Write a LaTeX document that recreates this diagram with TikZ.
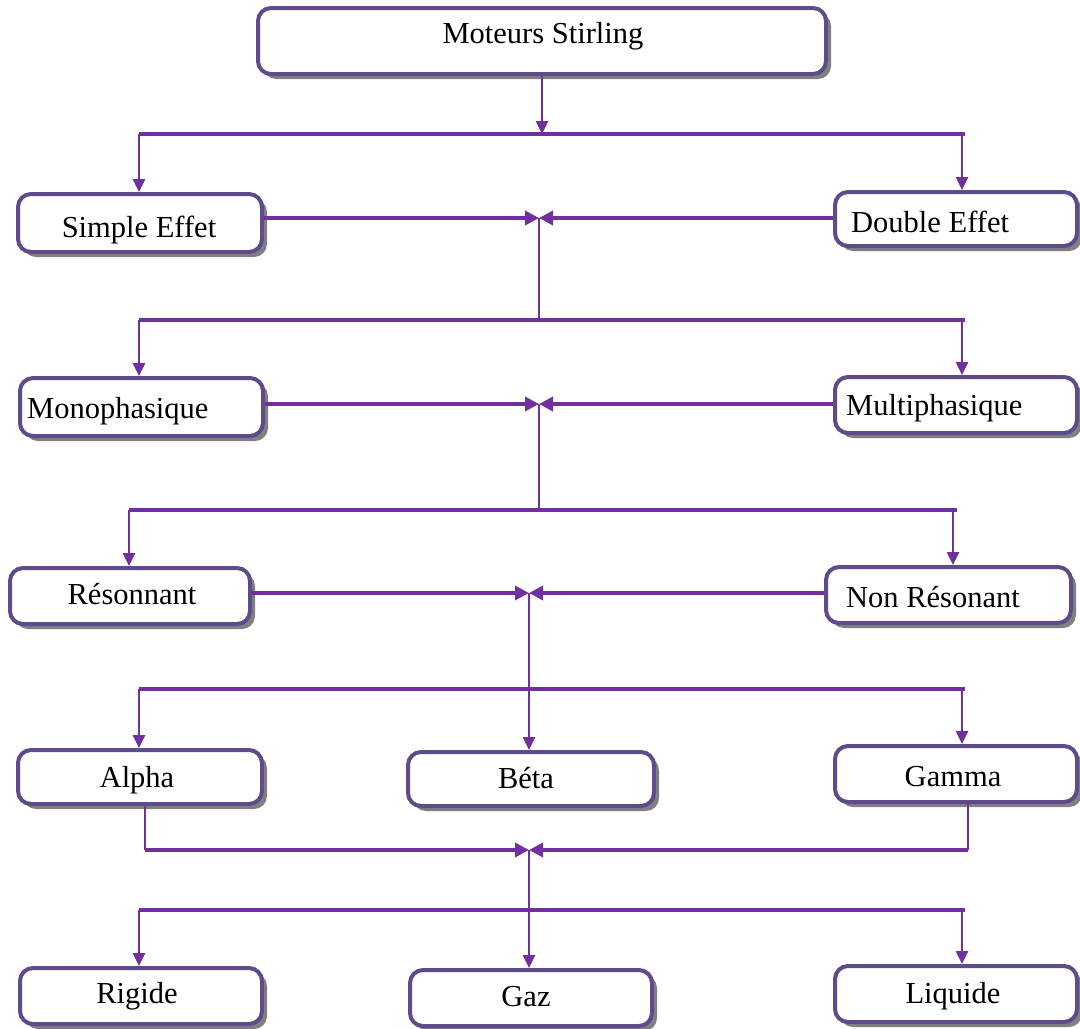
\documentclass[tikz,border=0pt]{standalone}
\usepackage{fontspec}
\setmainfont{Liberation Serif}
\usetikzlibrary{arrows.meta,shadows}
\definecolor{linec}{HTML}{7030A0}
\definecolor{boxc}{HTML}{5F4B8B}
\definecolor{shadc}{HTML}{808080}
\begin{document}
\begin{tikzpicture}[x=1pt,y=-1pt,
  box/.style={draw=boxc,line width=4pt,rounded corners=13pt,fill=white,inner sep=0pt,
    drop shadow={shadow xshift=5pt,shadow yshift=-5pt,fill=shadc,opacity=1}},
  lbl/.style={inner sep=0pt,font=\fontsize{30.5}{36}\selectfont},
  bus/.style={draw=linec,line width=3.5pt},
  vline/.style={draw=linec,line width=2.5pt},
  arr/.style={draw=linec,line width=2.5pt,-{Triangle[length=13pt,width=12pt]}},
  harr/.style={draw=linec,line width=3.5pt,-{Triangle[length=14pt,width=14pt]}}
]
\useasboundingbox (0,0) rectangle (1080,1029);

% boxes
\node[box,minimum width=568pt,minimum height=66pt] (ms) at (542,41) {};
\node[box,minimum width=244pt,minimum height=58pt] (se) at (140,223) {};
\node[box,minimum width=242pt,minimum height=54pt] (de) at (956,219) {};
\node[box,minimum width=243pt,minimum height=58pt] (mo) at (141.5,407) {};
\node[box,minimum width=242pt,minimum height=56pt] (mu) at (956,405) {};
\node[box,minimum width=240pt,minimum height=56pt] (re) at (130,596) {};
\node[box,minimum width=245pt,minimum height=56pt] (nr) at (948.5,595) {};
\node[box,minimum width=244pt,minimum height=54pt] (al) at (140,777) {};
\node[box,minimum width=246pt,minimum height=54pt] (be) at (531,779) {};
\node[box,minimum width=242pt,minimum height=56pt] (ga) at (956,774) {};
\node[box,minimum width=242pt,minimum height=56pt] (ri) at (141,996) {};
\node[box,minimum width=242pt,minimum height=56pt] (gz) at (531,998) {};
\node[box,minimum width=242pt,minimum height=56pt] (li) at (956,994) {};

% labels
\node[lbl,anchor=base] (tms) at (543,43) {Moteurs Stirling};
\node[lbl,anchor=base] (tse) at (139,237) {Simple Effet};
\node[lbl,anchor=base west] (tde) at (851,232) {Double Effet};
\node[lbl,anchor=base west] (tmo) at (27,418) {Monophasique};
\node[lbl,anchor=base west] (tmu) at (846,415) {Multiphasique};
\node[lbl,anchor=base] (tre) at (132,604) {Résonnant};
\node[lbl,anchor=base west] (tnr) at (846,607) {Non Résonant};
\node[lbl,anchor=base] (tal) at (137,787) {Alpha};
\node[lbl,anchor=base] (tbe) at (526,788) {Béta};
\node[lbl,anchor=base] (tga) at (953,786) {Gamma};
\node[lbl,anchor=base] (tri) at (137,1003) {Rigide};
\node[lbl,anchor=base] (tgz) at (526,1006) {Gaz};
\node[lbl,anchor=base] (tli) at (953,1003) {Liquide};

% level 1
\coordinate (b1m) at (542,134);
\coordinate (b1l) at (139,134);
\coordinate (b1r) at (965,134);
\coordinate (c1r) at (962,134);
\draw[arr] (ms.south) -- (b1m);
\draw[bus] (b1l) -- (b1r);
\draw[arr] (b1l) -- (b1l |- se.north);
\draw[arr] (c1r) -- (c1r |- de.north);

% level 2
\coordinate (J1) at (539,218);
\draw[harr] (J1 -| se.east) -- (J1);
\draw[harr] (J1 -| de.west) -- (J1);
\coordinate (b2l) at (139,320);
\coordinate (b2r) at (965,320);
\coordinate (c2r) at (962,320);
\draw[vline] (J1) -- (J1 |- b2l);
\draw[bus] (b2l) -- (b2r);
\draw[arr] (b2l) -- (b2l |- mo.north);
\draw[arr] (c2r) -- (c2r |- mu.north);

% level 3
\coordinate (J2) at (539,404);
\draw[harr] (J2 -| mo.east) -- (J2);
\draw[harr] (J2 -| mu.west) -- (J2);
\coordinate (b3l) at (129,510);
\coordinate (b3r) at (957,510);
\coordinate (c3r) at (953,510);
\draw[vline] (J2) -- (J2 |- b3l);
\draw[bus] (b3l) -- (b3r);
\draw[arr] (b3l) -- (b3l |- re.north);
\draw[arr] (c3r) -- (c3r |- nr.north);

% level 4
\coordinate (J3) at (529,593);
\draw[harr] (J3 -| re.east) -- (J3);
\draw[harr] (J3 -| nr.west) -- (J3);
\coordinate (b4l) at (139,689);
\coordinate (b4r) at (965,689);
\coordinate (c4r) at (962,689);
\draw[arr] (J3) -- (J3 |- be.north);
\draw[bus] (b4l) -- (b4r);
\draw[arr] (b4l) -- (b4l |- al.north);
\draw[arr] (c4r) -- (c4r |- ga.north);

% level 5
\coordinate (J4) at (529,850);
\coordinate (a1) at (145,850);
\coordinate (g1) at (968,850);
\draw[vline] (a1 |- al.south) -- (a1);
\draw[vline] (g1 |- ga.south) -- (g1);
\draw[harr] (a1) -- (J4);
\draw[harr] (g1) -- (J4);
\coordinate (b5l) at (139,910);
\coordinate (b5r) at (965,910);
\coordinate (c5r) at (962,910);
\draw[arr] (J4) -- (J4 |- gz.north);
\draw[bus] (b5l) -- (b5r);
\draw[arr] (b5l) -- (b5l |- ri.north);
\draw[arr] (c5r) -- (c5r |- li.north);
\end{tikzpicture}
\end{document}
